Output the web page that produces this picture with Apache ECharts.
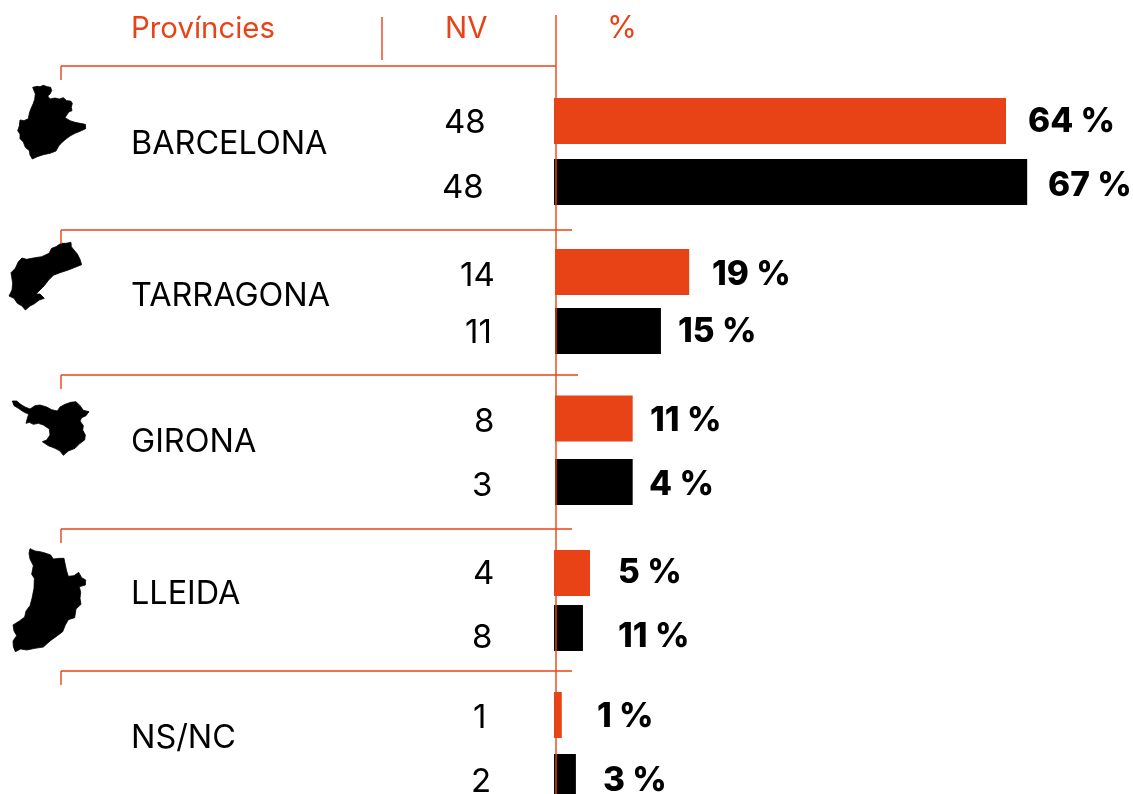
<!DOCTYPE html>
<html>
<head>
<meta charset="utf-8">
<style>html,body{margin:0;padding:0;background:#fff;overflow:hidden}#c{width:1133px;height:794px}</style>
<script src="https://cdn.jsdelivr.net/npm/echarts@6/dist/echarts.min.js"></script>
</head>
<body>
<div id="c"></div>
<script>
// ---- data ----
const headers = ['Províncies', 'NV', '%'];
const provinces = ['BARCELONA', 'TARRAGONA', 'GIRONA', 'LLEIDA', 'NS/NC'];
const orangeNV = ['48', '14', '8', '4', '1'];
const blackNV = ['48', '11', '3', '8', '2'];
const orangeLabels = ['64 %', '19 %', '11 %', '5 %', '1 %'];
const blackLabels = ['67 %', '15 %', '4 %', '11 %', '3 %'];
// bar lengths as drawn in the picture (they differ from the printed label in places)
const orangeBars = [64, 19, 11, 5.1, 1.1];
const blackBars = [67, 15, 11, 4.1, 3.1];

// ---- layout & style ----
const ORANGE = '#e84316', BLACK = '#000', RULE = '#e84316';
const FONT = 'Inter, "Liberation Sans", sans-serif';
const groupX0 = [554, 555, 555, 554, 554];
const PX_PER_UNIT = 7.0625, XMAX = 80;
const rowCentres = [[121, 182], [272, 331], [418.5, 482], [573, 628], [715, 777]];
const orangeLabelX = [1028, 712, 650, 618, 597];
const blackLabelX = [1048, 678, 649, 618, 603];
const labelDy = [[1, 4], [3, 1], [2, 3], [0, 9], [2, 4]];
const nvLayout = [[[444, 123], [442, 188]], [[460, 276], [465, 333]], [[474, 422], [472, 486]], [[473, 574], [472, 638]], [[473, 718], [471, 782]]];
const nameY = [144, 296, 442, 594, 738];
const rules = [[66, 556], [230, 572], [375, 578], [529, 572], [671, 572]];
const outlines = [
  {ox: 0, oy: 70, p: [[100,57],[98,52],[112,49],[120,50],[130,46],[142,50],[152,52],[155,62],[150,72],[143,78],[150,87],[165,84],[178,87],[190,83],[200,92],[212,93],[217,100],[214,112],[216,122],[206,126],[200,136],[195,143],[210,152],[225,157],[240,160],[256,163],[257,176],[240,184],[225,190],[210,198],[197,208],[185,218],[176,228],[168,243],[150,250],[130,254],[112,260],[97,267],[90,255],[88,242],[76,232],[70,216],[60,206],[60,192],[53,182],[58,168],[60,150],[72,152],[85,146],[88,130],[92,118],[100,100],[104,88],[106,72]]},
  {ox: 0, oy: 230, p: [[183,40],[198,40],[213,37],[214,50],[222,60],[232,72],[240,88],[245,104],[225,112],[205,120],[180,128],[160,136],[146,150],[132,168],[120,180],[108,192],[120,192],[133,205],[118,210],[102,222],[90,228],[76,240],[66,228],[52,220],[42,205],[27,198],[36,180],[38,160],[33,128],[46,115],[55,95],[66,84],[80,88],[100,84],[125,80],[147,70],[155,55],[168,50]]},
  {ox: 0, oy: 385, p: [[37,48],[50,48],[62,58],[75,66],[90,72],[105,62],[120,60],[140,66],[155,74],[172,78],[180,66],[195,58],[212,52],[228,50],[240,62],[250,76],[267,80],[258,92],[245,98],[240,108],[250,122],[248,135],[256,150],[254,165],[240,175],[225,190],[205,198],[190,211],[180,198],[165,190],[145,182],[127,170],[140,165],[150,150],[148,132],[130,120],[115,115],[100,118],[88,112],[78,115],[82,100],[86,88],[70,80],[55,70],[42,62]]},
  {ox: 0, oy: 535, p: [[90,41],[105,48],[120,50],[135,54],[152,60],[160,72],[178,70],[192,70],[196,90],[200,108],[205,124],[222,122],[236,112],[245,128],[257,135],[256,150],[238,155],[242,172],[240,190],[243,208],[228,222],[224,248],[205,254],[196,270],[188,290],[168,305],[150,318],[130,336],[105,340],[80,345],[62,342],[46,350],[40,335],[39,318],[50,302],[42,288],[39,270],[58,258],[74,246],[78,228],[90,212],[96,190],[102,160],[103,130],[95,118],[100,92],[90,72],[87,55]]}
];

const grids = [], xAxes = [], yAxes = [], series = [], graphics = [];
const text = (str, x, y, size, color, weight) => ({
  type: 'text', x, y, z: 50,
  style: {text: str, fill: color, font: (weight || 400) + ' ' + size + 'px ' + FONT, textVerticalAlign: 'middle', textAlign: 'left'}
});
const line = (x1, y1, x2, y2) => ({
  type: 'line', z: 100, shape: {x1, y1, x2, y2}, style: {stroke: RULE, lineWidth: 1.4}
});

provinces.forEach((name, i) => {
  const [c1, c2] = rowCentres[i];
  const gap = c2 - c1;
  const X0 = groupX0[i];
  grids.push({left: X0, width: PX_PER_UNIT * XMAX, top: c1 - gap / 2, height: gap * 2, containLabel: false, outerBoundsMode: 'none'});
  xAxes.push({gridIndex: i, type: 'value', min: 0, max: XMAX, show: false});
  yAxes.push({gridIndex: i, type: 'category', inverse: true, show: false, data: [name + ' A', name + ' B']});
  const item = (value, color, label, lx, dy) => ({
    value,
    itemStyle: {color},
    label: {
      show: true, position: 'right', distance: 0, formatter: label,
      offset: [lx - (X0 + value * PX_PER_UNIT), dy],
      color: '#000', fontFamily: FONT, fontWeight: 800, fontSize: 33.5
    }
  });
  series.push({
    type: 'bar', name, xAxisIndex: i, yAxisIndex: i, barWidth: 46, animation: false, silent: true, clip: false,
    data: [item(orangeBars[i], ORANGE, orangeLabels[i], orangeLabelX[i], labelDy[i][0]),
           item(blackBars[i], BLACK, blackLabels[i], blackLabelX[i], labelDy[i][1])]
  });
  graphics.push(text(name, 131, nameY[i], 32.4, '#000'));
  graphics.push(text(orangeNV[i], nvLayout[i][0][0], nvLayout[i][0][1], 33, '#000'));
  graphics.push(text(blackNV[i], nvLayout[i][1][0], nvLayout[i][1][1], 33, '#000'));
  const [ry, rx] = rules[i];
  graphics.push(line(61, ry, rx, ry), line(61, ry, 61, ry + 14));
});

graphics.push(text(headers[0], 131, 29, 29.4, ORANGE));
graphics.push(text(headers[1], 445, 29, 29.4, ORANGE));
graphics.push(text(headers[2], 607, 29, 30.5, ORANGE));
graphics.push(line(382, 17, 382, 60), line(556, 15, 556, 794));

outlines.forEach(o => graphics.push({
  type: 'polygon', z: 40,
  shape: {points: o.p.map(([x, y]) => [o.ox + x / 3, o.oy + y / 3])},
  style: {fill: '#000', stroke: '#000', lineWidth: 0.8}
}));

const chart = echarts.init(document.getElementById('c'), null, {renderer: 'canvas'});
chart.setOption({
  animation: false,
  backgroundColor: '#fff',
  grid: grids, xAxis: xAxes, yAxis: yAxes, series,
  graphic: {elements: graphics}
});
</script>
</body>
</html>
